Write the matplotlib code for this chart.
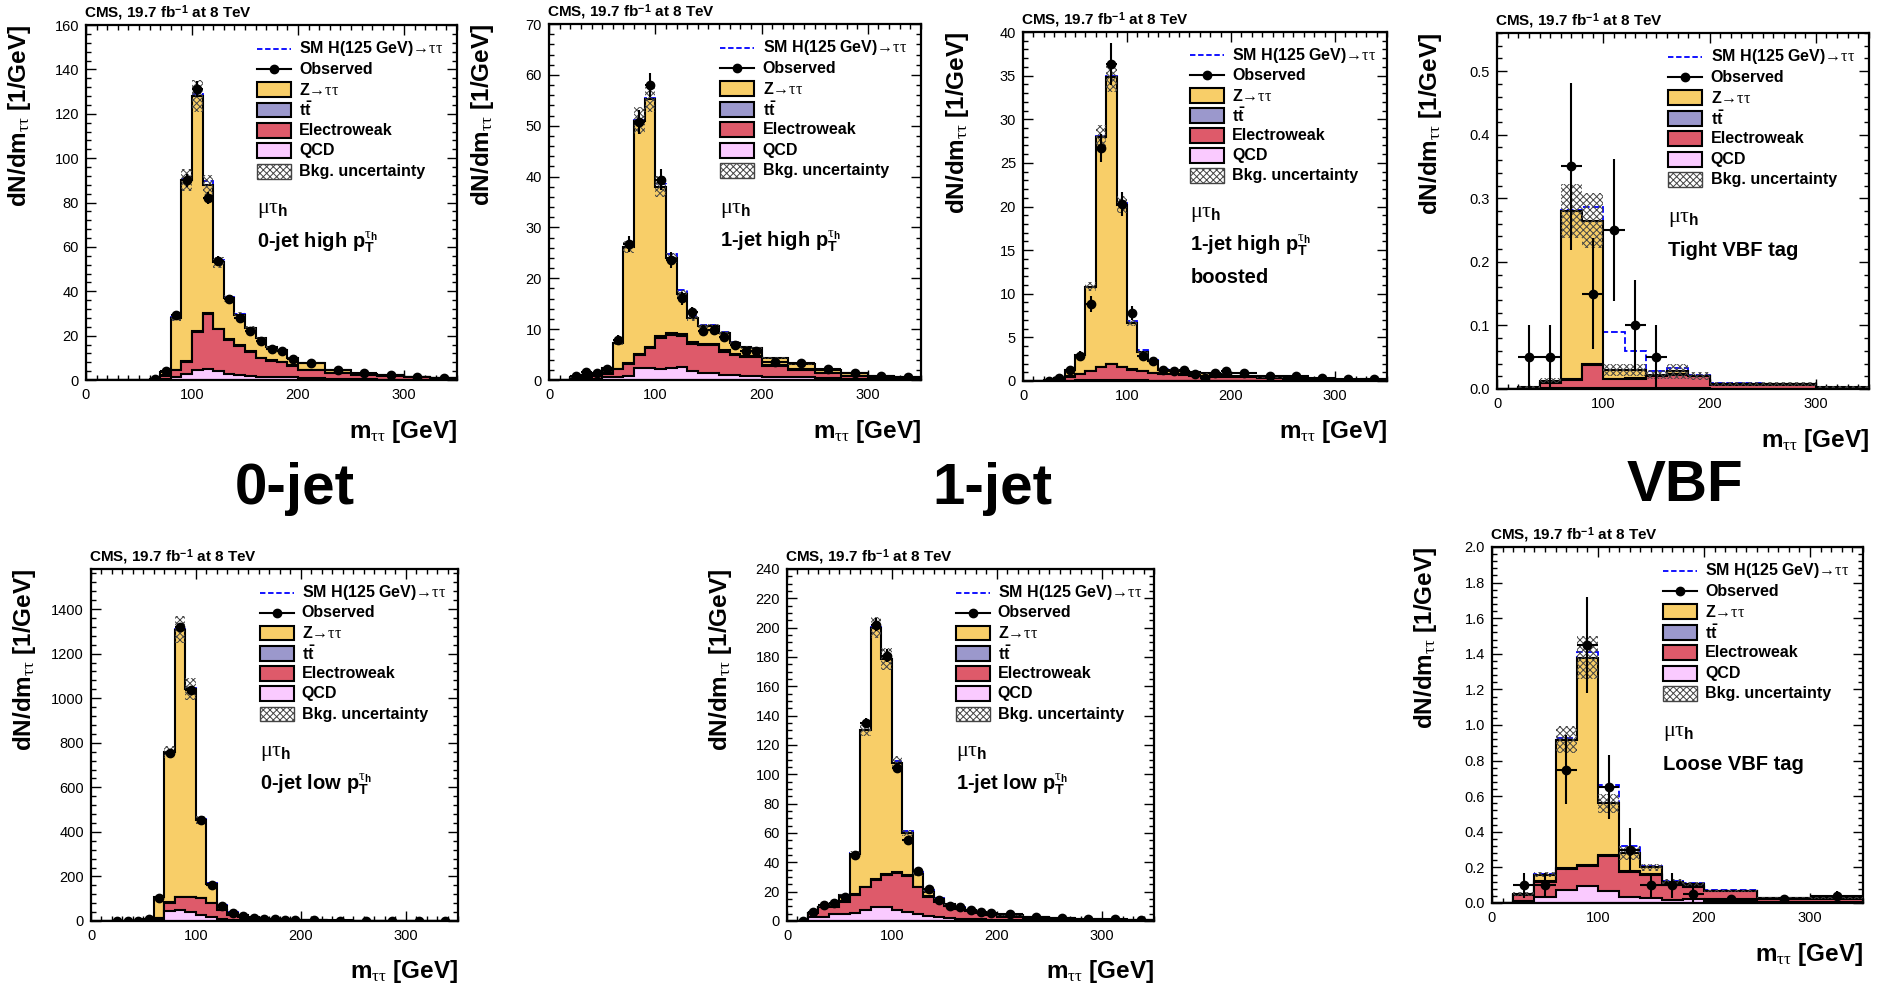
import numpy as np
import matplotlib
matplotlib.use('Agg')
import matplotlib.pyplot as plt
from matplotlib.patches import Rectangle
from matplotlib.lines import Line2D
from matplotlib.ticker import MultipleLocator, FormatStrFormatter

nan = np.nan

# binning
edges_jet = [0, 10, 20, 30, 40, 50, 60, 70, 80, 90, 100, 110, 120, 130, 140, 150, 160, 170, 180, 190, 200,
             225, 250, 275, 300, 325, 350]
edges_vbf = [0, 20, 40, 60, 80, 100, 120, 140, 160, 180, 200, 250, 300, 350]

# 0-jet high pT
qcd_0h = [0, 0, 0, 0, 0, 0, 0.1, 0.5, 1.2, 2.7, 4.5, 5.0, 4.2, 2.7, 2.2, 1.8, 1.5, 1.5, 1.2, 1.2, 0.8, 0.5, 0.3, 0.2, 0.1, 0.1]
ewk_0h = [0, 0, 0, 0, 0, 0, 0.1, 1.5, 3.3, 5.6, 17.3, 24.6, 18.6, 15.3, 13.1, 11.0, 8.3, 7.2, 6.8, 5.3, 3.7, 2.5, 1.95, 1.6, 1.1, 0.7]
ttb_0h = [0, 0, 0, 0, 0, 0, 0, 0.1, 0.1, 0.2, 0.3, 0.4, 0.4, 0.4, 0.3, 0.3, 0.3, 0.2, 0.2, 0.2, 0.2, 0.1, 0.1, 0.1, 0.05, 0.05]
ztt_0h = [0, 0, 0, 0, 0, 0, 0.2, 1.7, 23.4, 81.5, 105.9, 58, 29.8, 18.4, 13.7, 10.2, 8.7, 5.8, 5.3, 3.1, 3.1, 1.4, 0.35, 0.35, 0.25, 0.15]
sig_0h = [0, 0, 0, 0, 0, 0, 0, 0, 0.2, 0.5, 1.0, 1.5, 1.2, 0.8, 0.5, 0.3, 0.2, 0.2, 0.1, 0.1, 0.05, 0.05, 0, 0, 0, 0]
unc_0h = [0, 0, 0, 0, 0, 0, 0.05, 0.3, 1.5, 5.0, 7.0, 4.5, 2.6, 1.6, 1.2, 0.9, 0.7, 0.6, 0.5, 0.4, 0.3, 0.2, 0.15, 0.1, 0.08, 0.06]
obs_0h = [nan, nan, nan, nan, nan, nan, 0.3, 4.0, 29.3, 90, 131, 82, 53.5, 36.3, 28.1, 22.2, 17.7, 14.1, 13.2, 9.3, 7.5, 4.5, 3.0, 2.25, 1.2, 0.9]
err_0h = [0, 0, 0, 0, 0, 0, 0.2, 0.6, 1.7, 3.0, 3.6, 2.9, 2.3, 1.9, 1.7, 1.5, 1.3, 1.2, 1.1, 1.0, 0.55, 0.42, 0.35, 0.3, 0.22, 0.19]

# 1-jet high pT
qcd_1h = [0, 0, 0.1, 0.15, 0.25, 0.5, 0.6, 0.8, 2.3, 2.3, 2.2, 2.3, 2.5, 1.85, 1.45, 1.45, 1.0, 1.0, 0.8, 0.8, 0.6, 0.5, 0.3, 0.2, 0.15, 0.1]
ewk_1h = [0, 0, 0.2, 0.35, 0.55, 0.7, 1.5, 2.35, 2.6, 3.9, 6.0, 6.6, 6.2, 5.25, 5.35, 5.35, 4.6, 3.9, 3.7, 3.7, 2.15, 1.5, 1.0, 0.6, 0.35, 0.2]
ttb_1h = [0, 0, 0, 0.05, 0.05, 0.1, 0.15, 0.2, 0.3, 0.35, 0.4, 0.4, 0.4, 0.4, 0.35, 0.3, 0.3, 0.25, 0.2, 0.2, 0.15, 0.1, 0.1, 0.05, 0.05, 0.03]
ztt_1h = [0, 0, 0.2, 0.43, 0.45, 1.0, 5.1, 22.75, 45.8, 48.65, 29.4, 14.7, 7.9, 4.6, 3.45, 3.5, 3.3, 2.2, 1.7, 1.5, 1.4, 1.05, 0.6, 0.45, 0.25, 0.17]
sig_1h = [0, 0, 0, 0, 0, 0, 0, 0.1, 0.2, 0.3, 0.6, 0.8, 0.6, 0.4, 0.3, 0.2, 0.15, 0.1, 0.1, 0.05, 0.05, 0.03, 0, 0, 0, 0]
unc_1h = [0, 0, 0.05, 0.08, 0.1, 0.15, 0.4, 1.2, 2.6, 2.5, 2.1, 1.0, 0.7, 0.5, 0.4, 0.4, 0.35, 0.3, 0.25, 0.25, 0.15, 0.12, 0.08, 0.06, 0.04, 0.03]
obs_1h = [nan, nan, 0.79, 1.57, 1.45, 2.16, 7.87, 26.7, 50.7, 58, 39.4, 23.6, 16.1, 13.3, 9.6, 9.8, 8.4, 6.9, 5.8, 5.8, 3.6, 3.3, 2.1, 1.3, 0.79, 0.66]
err_1h = [0, 0, 0.28, 0.4, 0.38, 0.47, 0.9, 1.6, 2.3, 2.4, 2.0, 1.5, 1.3, 1.15, 1.0, 1.0, 0.9, 0.83, 0.76, 0.76, 0.38, 0.36, 0.29, 0.23, 0.18, 0.16]

# 1-jet high pT boosted
qcd_1b = [0, 0, 0, 0.02, 0.05, 0.08, 0.1, 0.12, 0.12, 0.1, 0.08, 0.06, 0.05, 0.04, 0.04, 0.03, 0.03, 0.02, 0.02, 0.02, 0.02, 0.01, 0.01, 0.01, 0.01, 0.01]
ewk_1b = [0, 0, 0.05, 0.18, 0.45, 0.72, 1.0, 1.48, 1.78, 1.5, 1.22, 1.04, 0.85, 0.76, 0.71, 0.67, 0.57, 0.53, 0.48, 0.48, 0.43, 0.29, 0.24, 0.19, 0.09, 0.09]
ttb_1b = [0, 0, 0, 0.02, 0.03, 0.05, 0.05, 0.06, 0.06, 0.06, 0.06, 0.05, 0.05, 0.05, 0.05, 0.05, 0.05, 0.05, 0.04, 0.04, 0.04, 0.03, 0.03, 0.02, 0.02, 0.02]
ztt_1b = [0, 0, 0.05, 0.08, 0.77, 2.15, 9.65, 26.34, 32.84, 18.54, 5.24, 2.15, 1.35, 0.45, 0.4, 0.35, 0.35, 0.3, 0.26, 0.16, 0.11, 0.07, 0.07, 0.03, 0.03, 0.08]
sig_1b = [0, 0, 0, 0, 0, 0, 0, 0.05, 0.1, 0.2, 0.3, 0.25, 0.15, 0.1, 0.05, 0.05, 0.03, 0.02, 0.02, 0.01, 0.01, 0, 0, 0, 0, 0]
unc_1b = [0, 0, 0.02, 0.03, 0.08, 0.15, 0.5, 1.3, 1.7, 1.0, 0.35, 0.15, 0.1, 0.07, 0.06, 0.06, 0.05, 0.05, 0.04, 0.04, 0.03, 0.02, 0.02, 0.02, 0.01, 0.01]
obs_1b = [nan, nan, 0.05, 0.4, 1.3, 2.9, 8.8, 26.7, 36.3, 20.3, 7.8, 2.9, 2.3, 1.3, 1.2, 1.3, 0.8, 0.4, 0.9, 1.2, 0.95, 0.6, 0.6, 0.4, 0.2, 0.2]
err_1b = [0, 0, 0.07, 0.2, 0.36, 0.54, 0.9, 1.6, 2.4, 1.4, 0.85, 0.54, 0.48, 0.36, 0.35, 0.36, 0.28, 0.2, 0.3, 0.35, 0.2, 0.15, 0.15, 0.13, 0.09, 0.09]

# tight VBF
qcd_vt = [0, 0, 0.001, 0.001, 0.002, 0.001, 0.001, 0.001, 0.001, 0.001, 0.0005, 0.0005, 0]
ewk_vt = [0, 0.002, 0.0084, 0.0137, 0.036, 0.014, 0.015, 0.019, 0.021, 0.019, 0.0065, 0.0065, 0.001]
ttb_vt = [0, 0, 0.0005, 0.001, 0.002, 0.001, 0.001, 0.001, 0.001, 0.0005, 0.0005, 0.0005, 0.0005]
ztt_vt = [0, 0.001, 0.0031, 0.2643, 0.225, 0.014, 0.013, 0.0015, 0.005, 0, 0.0005, 0.0005, 0.0015]
sig_vt = [0, 0, 0, 0.002, 0.022, 0.06, 0.03, 0.006, 0.005, 0.002, 0.001, 0, 0]
unc_vt = [0, 0.002, 0.004, 0.042, 0.043, 0.01, 0.01, 0.007, 0.012, 0.007, 0.003, 0.003, 0.002]
obs_vt = [nan, 0.05, 0.05, 0.35, 0.15, 0.25, 0.1, 0.05, nan, nan, nan, nan, nan]
err_vt = [0, 0.05, 0.05, 0.132, 0.087, 0.112, 0.071, 0.05, 0, 0, 0, 0, 0]

# 0-jet low pT
qcd_0l = [0, 0, 0.03, 0.05, 0.15, 3, 9, 43, 49, 40, 28, 19, 11, 6, 3.5, 2.5, 2, 1.5, 1.2, 1, 0.6, 0.4, 0.2, 0.15, 0.1, 0.05]
ewk_0l = [0, 0, 0.02, 0.05, 0.15, 3, 5, 40, 59, 68, 76, 62, 37, 22, 13.5, 9.5, 7, 5.5, 3.8, 3, 1.9, 1.1, 0.7, 0.45, 0.25, 0.2]
ttb_0l = [0, 0, 0, 0, 0, 0.05, 0.1, 0.2, 0.3, 0.3, 0.3, 0.3, 0.3, 0.3, 0.3, 0.3, 0.2, 0.2, 0.2, 0.2, 0.15, 0.1, 0.1, 0.05, 0.05, 0.05]
ztt_0l = [0, 0, 0.05, 0.1, 0.2, 3.95, 93.9, 675.8, 1199.7, 931.7, 347.7, 83.7, 19.7, 9.7, 8.7, 6.7, 4.8, 3.8, 2.8, 1.8, 1.35, 0.9, 0.5, 0.35, 0.2, 0.1]
sig_0l = [0, 0, 0, 0, 0, 0, 0.5, 1.5, 3, 4, 5, 5, 3, 2, 1, 0.5, 0.3, 0.2, 0.1, 0.1, 0.05, 0, 0, 0, 0, 0]
unc_0l = [0, 0, 0.01, 0.02, 0.05, 1, 5, 28, 60, 50, 18, 6, 3, 1.5, 1, 0.8, 0.6, 0.5, 0.4, 0.3, 0.2, 0.12, 0.08, 0.05, 0.03, 0.02]
obs_0l = [nan, nan, 0.1, 0.2, 0.5, 7.5, 105, 752, 1318, 1036, 452, 160, 66, 37, 22, 15, 10, 7, 6, 3, 3, 1.5, 1.0, 0.8, 0.4, 0.3]
err_0l = [0, 0, 0.1, 0.14, 0.22, 0.87, 3.2, 8.7, 11.5, 10.2, 6.7, 4.0, 2.6, 1.9, 1.5, 1.2, 1.0, 0.84, 0.77, 0.55, 0.35, 0.24, 0.2, 0.18, 0.13, 0.11]

# 1-jet low pT
qcd_1l = [0, 0, 2.96, 2.96, 4.8, 4.8, 5.2, 7.5, 9.8, 9.3, 7.5, 6.4, 4.8, 3.4, 2.5, 2.0, 1.6, 1.4, 1.2, 0.9, 0.7, 0.4, 0.25, 0.15, 0.1, 0.05]
ewk_1l = [0, 0, 2.24, 6.34, 4.5, 8.4, 12.5, 15.5, 18.2, 22.1, 25.5, 24.3, 18.2, 13.2, 10.7, 8.2, 6.4, 5.4, 4.0, 3.2, 2.26, 1.4, 1.15, 0.75, 0.5, 0.35]
ttb_1l = [0, 0, 0.1, 0.15, 0.2, 0.3, 0.4, 0.5, 0.6, 0.6, 0.6, 0.6, 0.5, 0.5, 0.4, 0.4, 0.3, 0.3, 0.25, 0.2, 0.15, 0.1, 0.08, 0.05, 0.04, 0.03]
ztt_1l = [0, 0, 0.2, 0.35, 2.0, 4.2, 27.9, 106.5, 171.4, 146.6, 74.4, 28.6, 8.5, 2.9, 1.4, 0.8, 0.8, 0.5, 0.4, 0.5, 0.8, 0.6, 0.3, 0.4, 0.35, 0.25]
sig_1l = [0, 0, 0, 0, 0, 0, 0.1, 0.3, 0.5, 0.8, 1.0, 1.5, 1.2, 0.8, 0.5, 0.3, 0.2, 0.15, 0.1, 0.1, 0.05, 0, 0, 0, 0, 0]
unc_1l = [0, 0, 0.3, 0.5, 0.5, 0.7, 1.5, 4, 7, 7.5, 4.5, 2, 1.2, 0.8, 0.6, 0.5, 0.4, 0.35, 0.3, 0.25, 0.2, 0.12, 0.1, 0.08, 0.06, 0.05]
obs_1l = [nan, 0.1, 6.4, 10.9, 12, 16.6, 45, 135, 202, 181, 104.6, 55, 34.1, 21.6, 14.3, 10.2, 9.3, 7.5, 6.4, 5.2, 4.5, 2.96, 1.8, 1.4, 1.4, 0.7]
err_1l = [0, 0.1, 0.8, 1.05, 1.1, 1.3, 2.1, 3.7, 4.5, 4.25, 3.2, 2.3, 1.85, 1.5, 1.2, 1.0, 0.96, 0.87, 0.8, 0.72, 0.42, 0.34, 0.27, 0.24, 0.24, 0.17]

# loose VBF
qcd_vl = [0, 0.01, 0.036, 0.075, 0.094, 0.069, 0.035, 0.03, 0.015, 0.02, 0.01, 0.005, 0.005]
ewk_vl = [0, 0.035, 0.082, 0.116, 0.116, 0.193, 0.137, 0.13, 0.088, 0.07, 0.055, 0.02, 0.02]
ttb_vl = [0, 0.001, 0.003, 0.005, 0.006, 0.006, 0.005, 0.004, 0.003, 0.003, 0.002, 0.001, 0.001]
ztt_vl = [0, 0.006, 0.039, 0.722, 1.162, 0.292, 0.103, 0.036, 0.014, 0.014, 0.002, 0.002, 0.002]
sig_vl = [0, 0, 0.002, 0.007, 0.032, 0.105, 0.04, 0.008, 0.005, 0.004, 0.002, 0.001, 0.001]
unc_vl = [0, 0.01, 0.015, 0.075, 0.12, 0.052, 0.04, 0.02, 0.015, 0.012, 0.006, 0.006, 0.006]
obs_vl = [nan, 0.1, 0.1, 0.75, 1.45, 0.65, 0.3, 0.1, 0.1, 0.05, 0.02, 0.02, 0.04]
err_vl = [0, 0.071, 0.071, 0.194, 0.269, 0.18, 0.122, 0.071, 0.071, 0.05, 0.02, 0.02, 0.028]

cat_labels = [['0-jet high p$_{\\mathrm{T}}^{\\tau_{\\mathrm{h}}}$'],
              ['1-jet high p$_{\\mathrm{T}}^{\\tau_{\\mathrm{h}}}$'],
              ['1-jet high p$_{\\mathrm{T}}^{\\tau_{\\mathrm{h}}}$', 'boosted'],
              ['Tight VBF tag'],
              ['0-jet low p$_{\\mathrm{T}}^{\\tau_{\\mathrm{h}}}$'],
              ['1-jet low p$_{\\mathrm{T}}^{\\tau_{\\mathrm{h}}}$'],
              ['Loose VBF tag']]
group_labels = ['0-jet', '1-jet', 'VBF']

plt.rcParams['font.family'] = 'Liberation Sans'
plt.rcParams['mathtext.fontset'] = 'custom'
plt.rcParams['mathtext.rm'] = 'Liberation Sans:bold'
plt.rcParams['mathtext.bf'] = 'Liberation Sans:bold'
plt.rcParams['mathtext.sf'] = 'Liberation Sans:bold'
plt.rcParams['mathtext.it'] = 'Liberation Serif'
plt.rcParams['hatch.linewidth'] = 0.7

c_ztt = '#F8CE68'
c_tt = '#9B98CC'
c_ewk = '#DE5A6A'
c_qcd = '#FACAFF'
c_hatch = '#444444'

W, H = 1880, 986
fig = plt.figure(figsize=(W / 100, H / 100), dpi=100)


def draw_legend(ax):
    x0, bw, bh = 0.46, 0.092, 0.042
    tx = 0.574
    step = 0.0575
    labels = ['SM H(125 GeV)\u2192$\\tau\\tau$', 'Observed', 'Z\u2192$\\tau\\tau$',
              't$\\bar{\\mathrm{t}}$', 'Electroweak', 'QCD', 'Bkg. uncertainty']
    for i, lab in enumerate(labels):
        yc = 0.933 - i * step
        if i == 0:
            ax.add_line(Line2D([x0, x0 + bw], [yc, yc], transform=ax.transAxes, color='blue',
                               ls='--', lw=1.3, dashes=(3, 1.5)))
        elif i == 1:
            ax.add_line(Line2D([x0, x0 + bw], [yc, yc], transform=ax.transAxes, color='black', lw=1.5))
            ax.add_line(Line2D([x0 + bw / 2], [yc], transform=ax.transAxes, color='black',
                               marker='o', ms=6))
        elif i == 6:
            ax.add_patch(Rectangle((x0, yc - bh / 2), bw, bh, transform=ax.transAxes, facecolor='white',
                                   edgecolor=c_hatch, hatch='xxxxx', lw=1.0))
        else:
            col = [c_ztt, c_tt, c_ewk, c_qcd][i - 2]
            ax.add_patch(Rectangle((x0, yc - bh / 2), bw, bh, transform=ax.transAxes, facecolor=col,
                                   edgecolor='black', lw=1.5))
        ax.text(tx, yc, lab, transform=ax.transAxes, fontsize=11.5, fontweight='bold', va='center')


def draw_panel(box, edges, qcd, ewk, ttb, ztt, sig, unc, obs, err, ymax, ymaj, ymin, texts, dec=False):
    l, t, r, b = box
    ax = fig.add_axes([l / W, 1 - b / H, (r - l) / W, (b - t) / H])
    edges = np.array(edges, dtype=float)
    l1 = np.array(qcd)
    l2 = l1 + np.array(ewk)
    l3 = l2 + np.array(ttb)
    l4 = l3 + np.array(ztt)
    unc = np.array(unc)

    ax.stairs(l4 + np.array(sig), edges, color='blue', ls='--', lw=1.3, zorder=1)
    for top, col in [(l4, c_ztt), (l3, c_tt), (l2, c_ewk), (l1, c_qcd)]:
        ax.stairs(top, edges, fill=True, facecolor=col, edgecolor='black', lw=1.5, zorder=2)
    ax.stairs(l4 + unc, edges, baseline=l4 - unc, fill=True, facecolor='none', edgecolor=c_hatch,
              hatch='xxxxx', lw=0, zorder=3)

    centers = (edges[1:] + edges[:-1]) / 2
    half = np.diff(edges) / 2
    ax.errorbar(centers, obs, yerr=err, xerr=half, fmt='o', color='black', ms=6, lw=1.5,
                capsize=0, zorder=4)

    ax.set_xlim(0, 350)
    ax.set_ylim(0, ymax)
    ax.xaxis.set_major_locator(MultipleLocator(100))
    ax.xaxis.set_minor_locator(MultipleLocator(10))
    ax.yaxis.set_major_locator(MultipleLocator(ymaj))
    ax.yaxis.set_minor_locator(MultipleLocator(ymin))
    if dec:
        ax.yaxis.set_major_formatter(FormatStrFormatter('%.1f'))
    ax.tick_params(which='both', direction='in', top=True, right=True, labelsize=10.5, width=1.0)
    ax.tick_params(which='major', length=7)
    ax.tick_params(which='minor', length=3.5)
    ax.tick_params(axis='x', pad=6)
    ax.tick_params(axis='y', pad=5)
    for s in ax.spines.values():
        s.set_linewidth(1.6)

    ax.text(1.0, -0.163, 'm$_{\\tau\\tau}$ [GeV]', transform=ax.transAxes, ha='right', va='baseline',
            fontsize=17.5, fontweight='bold')
    ax.text(-0.18, 1.0, 'dN/dm$_{\\tau\\tau}$ [1/GeV]', transform=ax.transAxes, rotation=90,
            ha='center', va='top', fontsize=17.5, fontweight='bold')
    ax.text(-0.005, 1.022, 'CMS, 19.7 fb$^{-1}$ at 8 TeV', transform=ax.transAxes, ha='left',
            va='baseline', fontsize=11, fontweight='bold')

    draw_legend(ax)
    ax.text(0.46, 0.47, '$\\mu\\tau_{\\mathrm{h}}$', transform=ax.transAxes, fontsize=16, va='baseline')
    for i, line in enumerate(texts):
        ax.text(0.46, 0.373 - i * 0.093, line, transform=ax.transAxes, fontsize=14.5,
                fontweight='bold', va='baseline')
    return ax


draw_panel((86, 25, 457, 380), edges_jet, qcd_0h, ewk_0h, ttb_0h, ztt_0h, sig_0h, unc_0h, obs_0h, err_0h,
           160, 20, 4, cat_labels[0])
draw_panel((549, 24, 921, 380), edges_jet, qcd_1h, ewk_1h, ttb_1h, ztt_1h, sig_1h, unc_1h, obs_1h, err_1h,
           70, 10, 2, cat_labels[1])
draw_panel((1023, 32, 1387, 381), edges_jet, qcd_1b, ewk_1b, ttb_1b, ztt_1b, sig_1b, unc_1b, obs_1b, err_1b,
           40, 5, 1, cat_labels[2])
draw_panel((1497, 33, 1869, 389), edges_vbf, qcd_vt, ewk_vt, ttb_vt, ztt_vt, sig_vt, unc_vt, obs_vt, err_vt,
           0.56, 0.1, 0.02, cat_labels[3], dec=True)
draw_panel((91, 569, 458, 921), edges_jet, qcd_0l, ewk_0l, ttb_0l, ztt_0l, sig_0l, unc_0l, obs_0l, err_0l,
           1580, 200, 40, cat_labels[4])
draw_panel((787, 569, 1154, 921), edges_jet, qcd_1l, ewk_1l, ttb_1l, ztt_1l, sig_1l, unc_1l, obs_1l, err_1l,
           240, 20, 5, cat_labels[5])
draw_panel((1492, 547, 1863, 903), edges_vbf, qcd_vl, ewk_vl, ttb_vl, ztt_vl, sig_vl, unc_vl, obs_vl, err_vl,
           2.0, 0.2, 0.04, cat_labels[6], dec=True)

for lab, (x, y) in zip(group_labels, [(295, 489), (992, 489), (1685, 486)]):
    fig.text(x / W, 1 - y / H, lab, ha='center', va='center', fontsize=42, fontweight='bold')

fig.savefig('out.png', dpi=100)
